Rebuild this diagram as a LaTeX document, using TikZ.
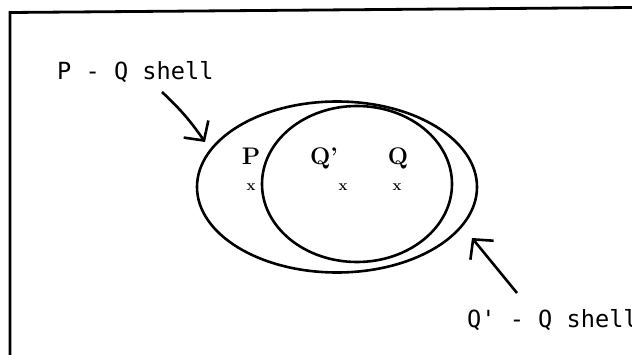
\documentclass[tikz,border=0pt]{standalone}
\usepackage{fontspec}
\newfontfamily\monofont{DejaVu Sans Mono}
\usetikzlibrary{arrows.meta}
\tikzset{
  shell/.style={line width=2.6pt},
  pointer/.style={line width=2.6pt, -{Straight Barb[length=14pt,width=30pt,line width=2.6pt]}},
  monolabel/.style={anchor=base west, inner sep=0pt, font=\monofont\fontsize{23.6}{28}\selectfont},
  ptlabel/.style={anchor=base, inner sep=0pt, font=\bfseries\fontsize{24}{28}\selectfont},
  ptmark/.style={inner sep=0pt, font=\bfseries\fontsize{15}{15}\selectfont}
}
\begin{document}
\begin{tikzpicture}[x=1pt,y=-1pt]
\useasboundingbox (0,0) rectangle (632,355);
% frame
\coordinate (fb) at (10,356);
\coordinate (fc) at (10,12.5);
\coordinate (fr) at (633,7.5);
\draw[line width=2.8pt] (fb) -- (fc) -- (fr);
% shells
\draw[shell] (337,187) ellipse [x radius=140, y radius=85.5];
\draw[shell] (357,184) ellipse [x radius=95, y radius=78];
% point labels
\node[ptlabel] (P) at (251,165) {P};
\node[ptlabel] (Qp) at (324,165) {Q'};
\node[ptlabel] (Q) at (398,165) {Q};
\node[ptmark] (xP) at (251,187) {x};
\node[ptmark] (xQp) at (343,187) {x};
\node[ptmark] (xQ) at (397,187) {x};
% text labels
\node[monolabel] (l1) at (57,80) {P - Q shell};
\node[monolabel] (l2) at (467,328) {Q' - Q shell};
% arrows
\coordinate (a1s) at (162,92);
\coordinate (a1t) at (205,142);
\draw[pointer] (a1s) to[bend left=6] (a1t);
\coordinate (a2s) at (517,293);
\coordinate (a2t) at (472,238);
\draw[pointer] (a2s) -- (a2t);
\end{tikzpicture}
\end{document}
